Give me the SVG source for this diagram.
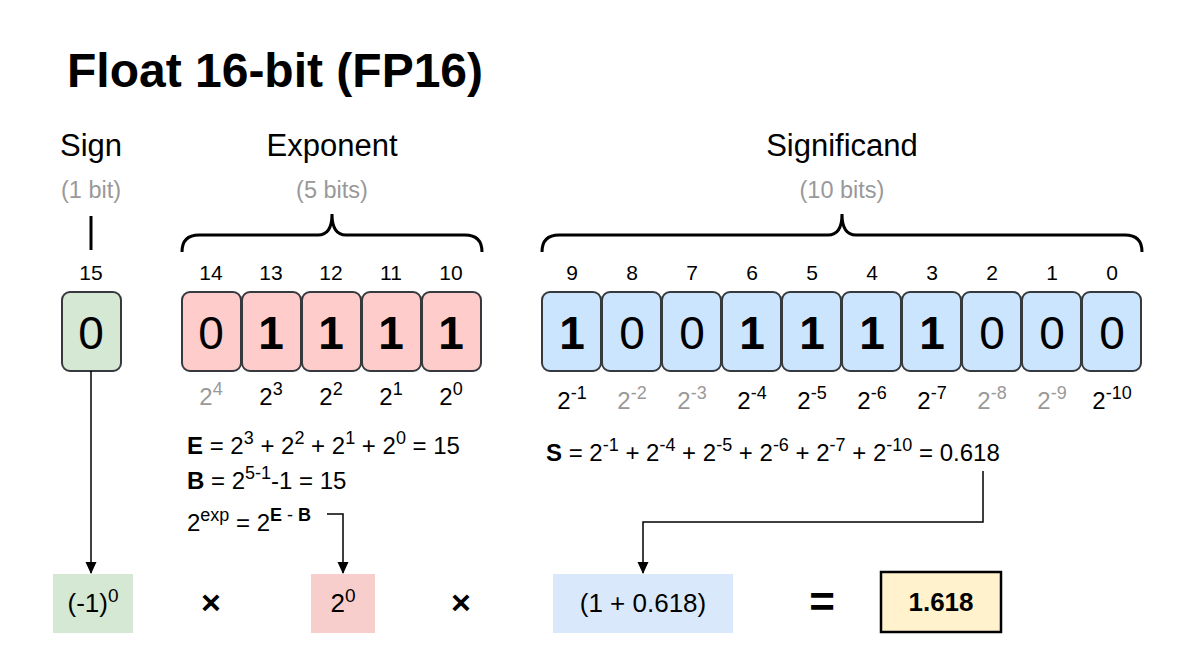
<svg xmlns="http://www.w3.org/2000/svg" width="1178" height="666" viewBox="0 0 1178 666">
<defs>
<style>
text{font-family:"Liberation Sans",Arial,sans-serif;fill:#000}
.hdr{font-size:31px;text-anchor:middle}
.sub{font-size:23.5px;text-anchor:middle;fill:#999}
.idx{font-size:21px;text-anchor:middle}
.bit{font-size:46px;text-anchor:middle}
.b1{font-weight:bold}
.w{font-size:24px;text-anchor:middle}
.g{fill:#999}
.f{font-size:24px}
.sp{font-size:18px}
.bt{font-size:26px;text-anchor:middle}
.sign{fill:#d5e8d4;stroke:#36393d;stroke-width:2}
.exp{fill:#ffcccc;stroke:#36393d;stroke-width:2}
.sig{fill:#cce5ff;stroke:#36393d;stroke-width:2}
.brace{fill:none;stroke:#000;stroke-width:3}
.conn{fill:none;stroke:#000;stroke-width:1.5}
</style>
<marker id="arr" markerUnits="userSpaceOnUse" markerWidth="12" markerHeight="12" refX="11" refY="5.5" orient="auto" viewBox="0 0 12 11">
<path d="M0,0 L12,5.5 L0,11 z" fill="#000"/>
</marker>
</defs>
<rect width="1178" height="666" fill="#fff"/>
<text x="67" y="87" font-size="48" font-weight="bold">Float 16-bit (FP16)</text>

<g id="headers">
<text class="hdr" x="91" y="156">Sign</text>
<text class="sub" x="91" y="198">(1 bit)</text>
<text class="hdr" x="332" y="156">Exponent</text>
<text class="sub" x="332" y="198">(5 bits)</text>
<text class="hdr" x="842" y="156">Significand</text>
<text class="sub" x="842" y="198">(10 bits)</text>
<line x1="91" y1="216" x2="91" y2="250" stroke="#000" stroke-width="3"/>
<path class="brace" d="M182,252 Q182,235 199,235 L318,235 Q332,235 332,214 Q332,235 346,235 L465,235 Q482,235 482,252"/>
<path class="brace" d="M542,252 Q542,235 559,235 L828,235 Q842,235 842,214 Q842,235 856,235 L1125,235 Q1142,235 1142,252"/>
</g>

<g id="sign-bit">
<text class="idx" x="91" y="280">15</text>
<rect class="sign" x="62" y="292" width="59" height="79" rx="8"/>
<text class="bit" x="91" y="349">0</text>
</g>

<g id="exponent-bits">
<text class="idx" x="211" y="280">14</text>
<text class="idx" x="271" y="280">13</text>
<text class="idx" x="331" y="280">12</text>
<text class="idx" x="391" y="280">11</text>
<text class="idx" x="451" y="280">10</text>
<rect class="exp" x="182" y="292" width="59" height="79" rx="8"/>
<rect class="exp" x="242" y="292" width="59" height="79" rx="8"/>
<rect class="exp" x="302" y="292" width="59" height="79" rx="8"/>
<rect class="exp" x="362" y="292" width="59" height="79" rx="8"/>
<rect class="exp" x="422" y="292" width="59" height="79" rx="8"/>
<text class="bit" x="211" y="349">0</text>
<text class="bit b1" x="271" y="349">1</text>
<text class="bit b1" x="331" y="349">1</text>
<text class="bit b1" x="391" y="349">1</text>
<text class="bit b1" x="451" y="349">1</text>
<text class="w g" x="211" y="405">2<tspan class="sp" dy="-10">4</tspan></text>
<text class="w" x="271" y="405">2<tspan class="sp" dy="-10">3</tspan></text>
<text class="w" x="331" y="405">2<tspan class="sp" dy="-10">2</tspan></text>
<text class="w" x="391" y="405">2<tspan class="sp" dy="-10">1</tspan></text>
<text class="w" x="451" y="405">2<tspan class="sp" dy="-10">0</tspan></text>
</g>

<g id="significand-bits">
<text class="idx" x="572" y="280">9</text>
<text class="idx" x="632" y="280">8</text>
<text class="idx" x="692" y="280">7</text>
<text class="idx" x="752" y="280">6</text>
<text class="idx" x="812" y="280">5</text>
<text class="idx" x="872" y="280">4</text>
<text class="idx" x="932" y="280">3</text>
<text class="idx" x="992" y="280">2</text>
<text class="idx" x="1052" y="280">1</text>
<text class="idx" x="1112" y="280">0</text>
<rect class="sig" x="542" y="292" width="59" height="79" rx="8"/>
<rect class="sig" x="602" y="292" width="59" height="79" rx="8"/>
<rect class="sig" x="662" y="292" width="59" height="79" rx="8"/>
<rect class="sig" x="722" y="292" width="59" height="79" rx="8"/>
<rect class="sig" x="782" y="292" width="59" height="79" rx="8"/>
<rect class="sig" x="842" y="292" width="59" height="79" rx="8"/>
<rect class="sig" x="902" y="292" width="59" height="79" rx="8"/>
<rect class="sig" x="962" y="292" width="59" height="79" rx="8"/>
<rect class="sig" x="1022" y="292" width="59" height="79" rx="8"/>
<rect class="sig" x="1082" y="292" width="59" height="79" rx="8"/>
<text class="bit b1" x="572" y="349">1</text>
<text class="bit" x="632" y="349">0</text>
<text class="bit" x="692" y="349">0</text>
<text class="bit b1" x="752" y="349">1</text>
<text class="bit b1" x="812" y="349">1</text>
<text class="bit b1" x="872" y="349">1</text>
<text class="bit b1" x="932" y="349">1</text>
<text class="bit" x="992" y="349">0</text>
<text class="bit" x="1052" y="349">0</text>
<text class="bit" x="1112" y="349">0</text>
<text class="w" x="572" y="409">2<tspan class="sp" dy="-10">-1</tspan></text>
<text class="w g" x="632" y="409">2<tspan class="sp" dy="-10">-2</tspan></text>
<text class="w g" x="692" y="409">2<tspan class="sp" dy="-10">-3</tspan></text>
<text class="w" x="752" y="409">2<tspan class="sp" dy="-10">-4</tspan></text>
<text class="w" x="812" y="409">2<tspan class="sp" dy="-10">-5</tspan></text>
<text class="w" x="872" y="409">2<tspan class="sp" dy="-10">-6</tspan></text>
<text class="w" x="932" y="409">2<tspan class="sp" dy="-10">-7</tspan></text>
<text class="w g" x="992" y="409">2<tspan class="sp" dy="-10">-8</tspan></text>
<text class="w g" x="1052" y="409">2<tspan class="sp" dy="-10">-9</tspan></text>
<text class="w" x="1112" y="409">2<tspan class="sp" dy="-10">-10</tspan></text>
</g>

<g id="formulas">
<text class="f" x="187" y="454"><tspan font-weight="bold">E</tspan> = 2<tspan class="sp" dy="-10">3</tspan><tspan dy="10"> + 2</tspan><tspan class="sp" dy="-10">2</tspan><tspan dy="10"> + 2</tspan><tspan class="sp" dy="-10">1</tspan><tspan dy="10"> + 2</tspan><tspan class="sp" dy="-10">0</tspan><tspan dy="10"> = 15</tspan></text>
<text class="f" x="187" y="489"><tspan font-weight="bold">B</tspan> = 2<tspan class="sp" dy="-10">5-1</tspan><tspan dy="10">-1 = 15</tspan></text>
<text class="f" x="187" y="531">2<tspan class="sp" dy="-10">exp</tspan><tspan dy="10"> = 2</tspan><tspan class="sp" dy="-10" font-weight="bold">E</tspan><tspan class="sp"> - </tspan><tspan class="sp" font-weight="bold">B</tspan></text>
<text class="f" x="546" y="461"><tspan font-weight="bold">S</tspan> = 2<tspan class="sp" dy="-10">-1</tspan><tspan dy="10"> + 2</tspan><tspan class="sp" dy="-10">-4</tspan><tspan dy="10"> + 2</tspan><tspan class="sp" dy="-10">-5</tspan><tspan dy="10"> + 2</tspan><tspan class="sp" dy="-10">-6</tspan><tspan dy="10"> + 2</tspan><tspan class="sp" dy="-10">-7</tspan><tspan dy="10"> + 2</tspan><tspan class="sp" dy="-10">-10</tspan><tspan dy="10"> = 0.618</tspan></text>
</g>

<g id="connectors">
<path class="conn" d="M91,371 V573" marker-end="url(#arr)"/>
<path class="conn" d="M327,514 H343 V573" marker-end="url(#arr)"/>
<path class="conn" d="M983,471 V522 H643 V573" marker-end="url(#arr)"/>
</g>

<g id="sign-term">
<rect x="53" y="574" width="80" height="59" fill="#d5e8d4"/>
<text class="bt" x="93" y="612">(-1)<tspan font-size="19" dy="-10">0</tspan></text>
</g>
<g id="times1"><text x="211" y="614" font-size="34" font-weight="bold" text-anchor="middle">×</text></g>
<g id="exp-term">
<rect x="311" y="574" width="64" height="59" fill="#f8cecc"/>
<text class="bt" x="343" y="612">2<tspan font-size="19" dy="-10">0</tspan></text>
</g>
<g id="times2"><text x="461" y="614" font-size="34" font-weight="bold" text-anchor="middle">×</text></g>
<g id="sig-term">
<rect x="553" y="574" width="180" height="59" fill="#dae8fc"/>
<text class="bt" x="643" y="612">(1 + 0.618)</text>
</g>
<g id="equals"><text x="822" y="617" font-size="44" font-weight="bold" text-anchor="middle">=</text></g>
<g id="result">
<rect x="881" y="572" width="120" height="60" fill="#fff2cc" stroke="#000" stroke-width="2.5"/>
<text x="941" y="611" font-size="26" font-weight="bold" text-anchor="middle">1.618</text>
</g>
</svg>
